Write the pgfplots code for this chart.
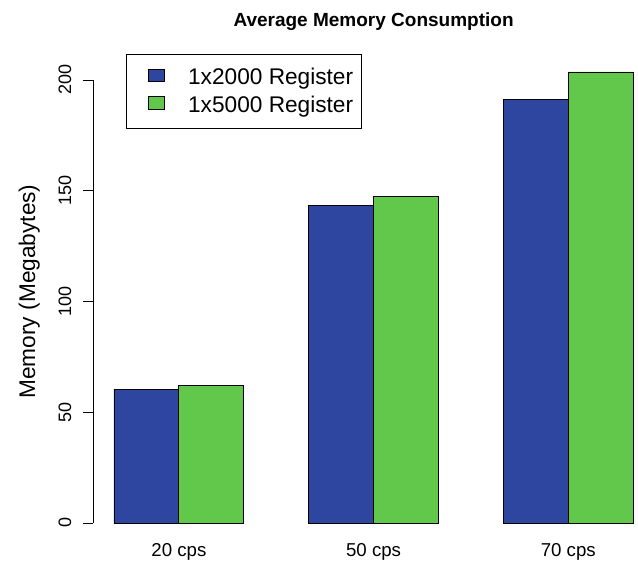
\documentclass[border=0pt]{standalone}
\usepackage{pgfplots}
\pgfplotsset{compat=1.18}
\usepackage{fontspec}
\setmainfont{Liberation Sans}
\definecolor{barblue}{RGB}{46,70,160}
\definecolor{bargreen}{RGB}{98,200,75}

% bar heights (megabytes); bars of width 1, groups at x = 1-3, 4-6, 7-9
\pgfplotstableread{
x   y
1.5 60.4
4.5 143.2
7.5 191.0
}\regtwo
\pgfplotstableread{
x   y
2.5 62.1
5.5 147.6
8.5 203.6
}\regfive

\begin{document}
\begin{tikzpicture}
\begin{axis}[
  x=48.675pt, y=1.66125pt,
  xmin=0.68, xmax=9.074, ymin=0, ymax=200,
  clip=false,
  axis x line*=bottom,
  axis y line*=left,
  x axis line style={draw=none},
  y axis line style={line width=0.6pt},
  xtick={2,5,8},
  xticklabels={20 cps,50 cps,70 cps},
  major x tick style={draw=none},
  ytick={0,50,100,150,200},
  tick align=outside,
  major tick length=7.5pt,
  major y tick style={line width=0.6pt,black},
  /pgf/number format/assume math mode=true,
  xticklabel style={font=\fontsize{14}{16}\selectfont, anchor=base, yshift=-18pt},
  yticklabel style={font=\fontsize{13.5}{16}\selectfont, xshift=-9pt, rotate=90, anchor=base},
  ybar, bar width=1, bar shift=0pt,
  legend style={at={(axis cs:1.185,211.5)}, anchor=north west, draw=black,
    line width=0.6pt, font=\fontsize{17}{20}\selectfont,
    inner xsep=5pt, inner ysep=9.2pt, nodes={inner sep=1pt},
    row sep=5.1pt, column sep=16.25pt, cells={anchor=base west}},
  legend image code/.code={\path (0pt,0pt);
    \draw[#1,draw=black,line width=0.5pt] (11.5pt,2.5pt) rectangle (23.5pt,12pt);},
]
\addplot[fill=barblue, draw=black, line width=0.6pt] table[x=x,y=y] {\regtwo};
\addlegendentry{1x2000 Register}
\addplot[fill=bargreen, draw=black, line width=0.6pt] table[x=x,y=y] {\regfive};
\addlegendentry{1x5000 Register}

\node[font=\bfseries\fontsize{14.25}{17}\selectfont, anchor=base, yshift=39.75pt]
  at (axis cs:5,200) {Average Memory Consumption};
\node[xshift=-48pt, rotate=90, font=\fontsize{17}{20}\selectfont, anchor=center]
  at (axis cs:0.68,104.5) {Memory (Megabytes)};
% page frame
\path (axis cs:-0.7565,-18.96) rectangle (axis cs:9.074,236.1);
\end{axis}
\end{tikzpicture}
\end{document}
